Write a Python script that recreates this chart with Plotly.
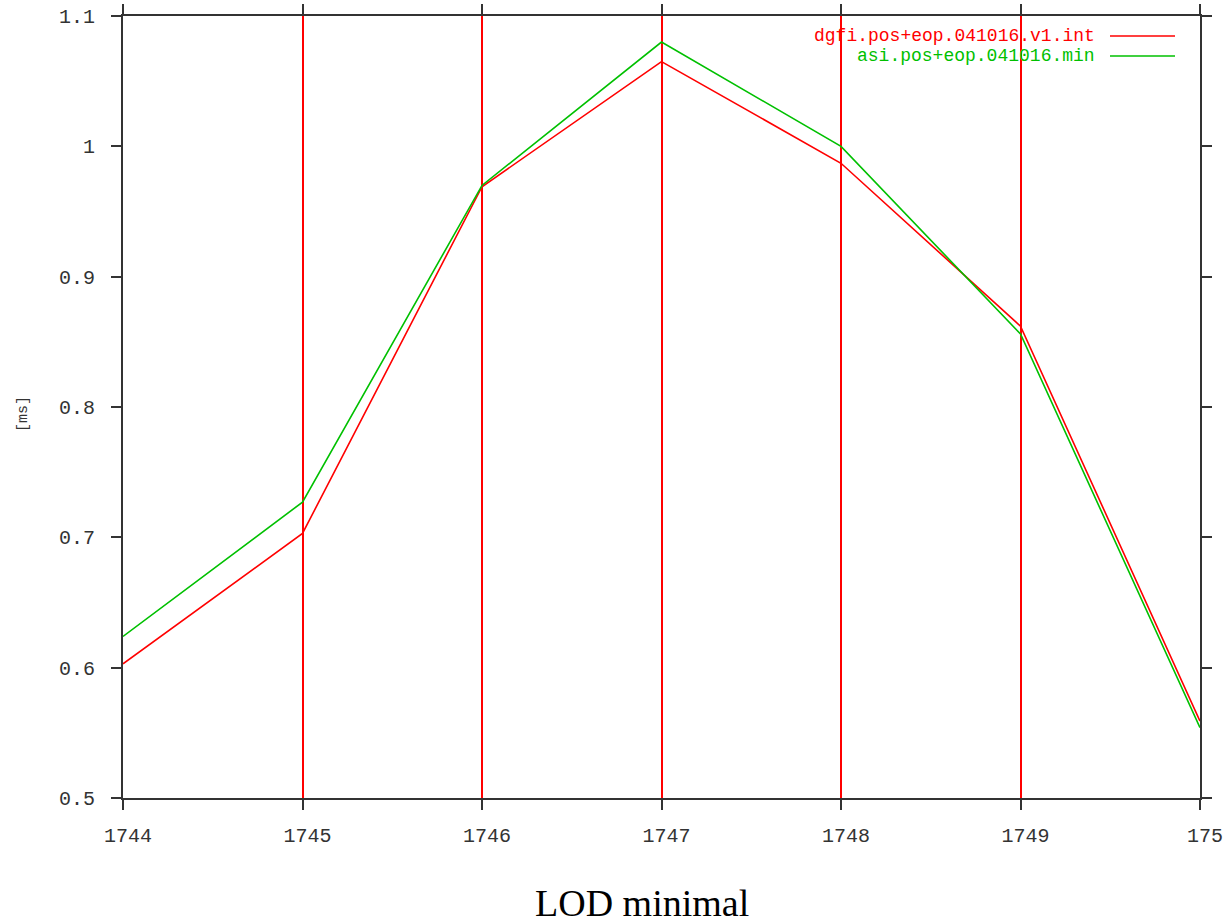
import plotly.graph_objects as go

years = [1744, 1745, 1746, 1747, 1748, 1749, 1750]
tick_labels = ["1744", "1745", "1746", "1747", "1748", "1749", "175"]
dgfi = [0.603, 0.703, 0.969, 1.065, 0.987, 0.862, 0.559]
asi = [0.624, 0.727, 0.970, 1.080, 1.000, 0.856, 0.554]
y_ticks = [0.5, 0.6, 0.7, 0.8, 0.9, 1.0, 1.1]
y_labels = ["0.5", "0.6", "0.7", "0.8", "0.9", "1", "1.1"]
names = ["dgfi.pos+eop.041016.v1.int", "asi.pos+eop.041016.min"]
colors = ["#ff0000", "#00c000"]

mono = "Liberation Mono"
axis_col = "#333333"

fig = go.Figure()
for name, vals, col in zip(names, [dgfi, asi], colors):
    fig.add_trace(go.Scatter(x=years, y=vals, mode="lines", name=name,
                             line=dict(color=col, width=1.6), showlegend=False))

# legend drawn gnuplot-style: text right aligned, sample line to the right
for i, (name, col) in enumerate(zip(names, colors)):
    yp = 0.9744 - i * 0.0256
    fig.add_annotation(xref="paper", yref="paper", x=0.9044, y=yp, text=name,
                       showarrow=False, xanchor="right", yanchor="middle",
                       font=dict(family=mono, size=18, color=col))
    fig.add_shape(type="line", xref="paper", yref="paper", x0=0.9164, x1=0.9768,
                  y0=yp, y1=yp, line=dict(color=col, width=1.6))

fig.add_annotation(xref="paper", yref="paper", x=0.482, y=-0.134, text="LOD minimal",
                   showarrow=False, xanchor="center", yanchor="middle",
                   font=dict(family="Liberation Serif", size=38, color="#000000"))
fig.add_annotation(xref="paper", yref="paper", x=-0.0929, y=0.491, text="[ms]",
                   showarrow=False, textangle=-90, xanchor="center", yanchor="middle",
                   font=dict(family=mono, size=15, color=axis_col))

axis_common = dict(showline=True, linecolor=axis_col, linewidth=2, mirror="ticks",
                   ticks="outside", tickcolor=axis_col, tickwidth=2, ticklen=10,
                   zeroline=False, automargin=False, ticklabeloverflow="allow",
                   tickfont=dict(family=mono, size=20, color=axis_col))

fig.update_xaxes(range=[1744, 1750], tickvals=years, ticktext=tick_labels,
                 showgrid=True, gridcolor="#ff0000", gridwidth=2,
                 ticklabelstandoff=8, ticklabelshift=5, **axis_common)
fig.update_yaxes(range=[0.5, 1.1], tickvals=y_ticks, ticktext=y_labels,
                 showgrid=False, ticklabelstandoff=12, **axis_common)

fig.update_layout(width=1224, height=924, plot_bgcolor="white", paper_bgcolor="white",
                  margin=dict(l=123, r=24, t=16, b=126), showlegend=False)

fig.write_html("out.html", config={"displayModeBar": False},
               post_script="document.body.style.margin='0';")
